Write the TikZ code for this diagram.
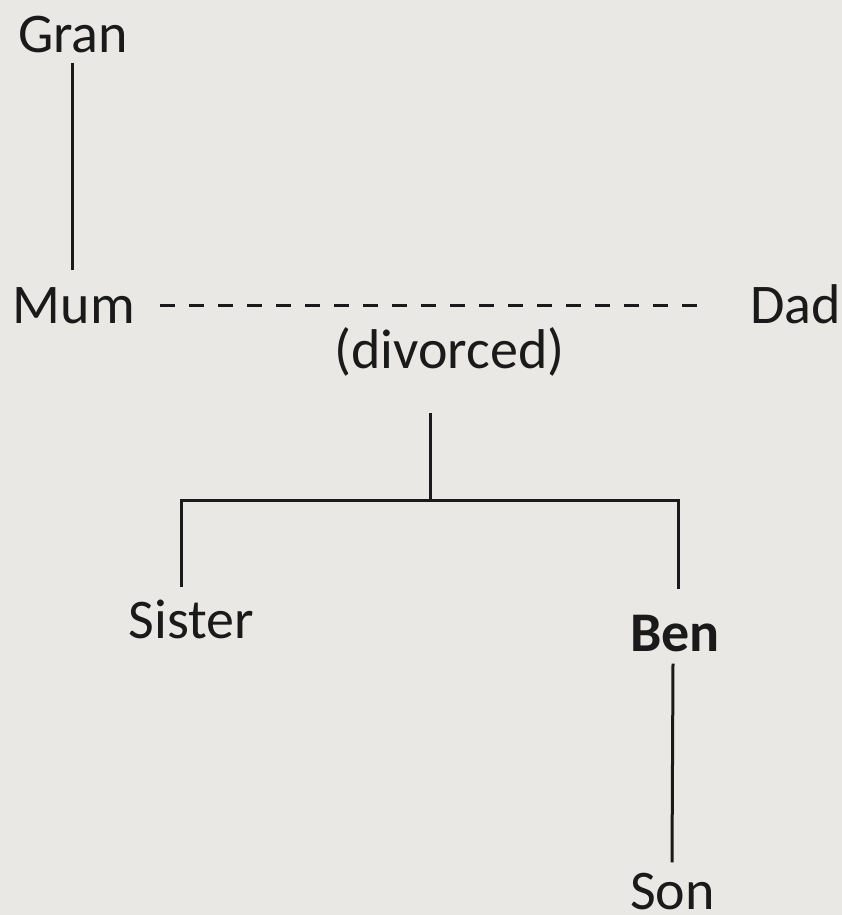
\documentclass[tikz,border=0pt]{standalone}
\usepackage{fontspec}
\setmainfont{Carlito}
\definecolor{paper}{RGB}{233,232,228}
\definecolor{ink}{RGB}{26,26,26}
\begin{document}
\begin{tikzpicture}[
  x=1pt, y=-1pt,
  person/.style={inner sep=0pt, anchor=base, text=ink, font=\fontsize{56}{67}\selectfont},
  link/.style={draw=ink, line width=3pt},
  split/.style={link, dash pattern=on 15pt off 14pt}
]
\fill[paper] (0,0) rectangle (842,915);
\useasboundingbox (0,0) rectangle (842,915);

\node[person] (gran) at (73,53) {Gran};
\node[person] (mum) at (74,323) {Mum};
\node[person] (dad) at (795.5,323) {Dad};
\node[person] (note) at (449.5,368) {(divorced)};
\node[person] (sister) at (191.5,638) {Sister};
\node[person, font=\fontsize{56}{67}\selectfont\bfseries] (ben) at (675,651) {Ben};
\node[person] (son) at (672.5,909) {Son};

\coordinate (fork) at (430,500);

\draw[link] ([xshift=-1pt,yshift=-9pt]gran.south) -- ([xshift=-2pt,yshift=17pt]mum.north);
\draw[split, shorten <=25pt, shorten >=53pt] (mum.east) -- (dad.west |- mum.east);
\draw[link, shorten <=37pt] (fork |- note.south) -- (fork);
\draw[link] (fork) -| ([xshift=-10.5pt,yshift=12pt]sister.north);
\draw[link] (fork) -| ([xshift=3pt,yshift=25pt]ben.north);
\draw[link] ([xshift=-2pt,yshift=-12pt]ben.south) -- ([xshift=-0.5pt,yshift=10pt]son.north);
\end{tikzpicture}
\end{document}
